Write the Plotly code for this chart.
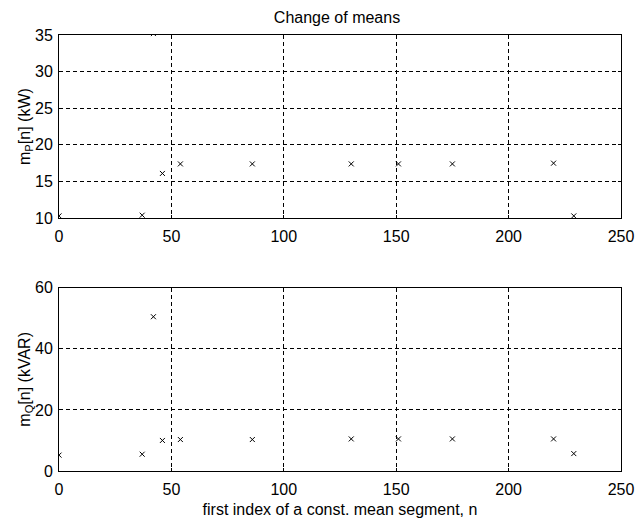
import plotly.graph_objects as go
from plotly.subplots import make_subplots

# first index of each constant-mean segment
seg_start = [0, 37, 42, 46, 54, 86, 130, 151, 175, 220, 229]
# estimated segment means
mean_p_kw = [10.3, 10.4, 35.2, 16.1, 17.4, 17.4, 17.4, 17.4, 17.4, 17.5, 10.3]
mean_q_kvar = [5.2, 5.5, 50.5, 10.0, 10.3, 10.3, 10.5, 10.5, 10.5, 10.5, 5.7]

x_ticks = [0, 50, 100, 150, 200, 250]
p_ticks = [10, 15, 20, 25, 30, 35]
q_ticks = [0, 20, 40, 60]

FONT = "Liberation Sans, Arial, Helvetica, sans-serif"
FS = 16

fig = make_subplots(rows=2, cols=1, vertical_spacing=0.0)

marker = dict(symbol="x-thin", size=5, color="black", line=dict(color="black", width=1))

fig.add_trace(go.Scatter(x=seg_start, y=mean_p_kw, mode="markers", marker=marker,
                         cliponaxis=True, showlegend=False), row=1, col=1)
fig.add_trace(go.Scatter(x=seg_start, y=mean_q_kvar, mode="markers", marker=marker,
                         cliponaxis=True, showlegend=False), row=2, col=1)

axis_common = dict(
    showline=True, linecolor="black", linewidth=1, mirror="ticks",
    ticks="inside", ticklen=3, tickcolor="black",
    showgrid=True, gridcolor="black", gridwidth=1, griddash="4px,3px",
    zeroline=False, automargin=False,
    tickfont=dict(family=FONT, size=FS, color="black"),
)

fig.update_xaxes(range=[0, 250], tickvals=x_ticks, ticklabelstandoff=4, **axis_common)
fig.update_xaxes(domain=[0, 1])
fig.update_yaxes(ticklabelstandoff=2, **axis_common)

fig.update_layout(
    yaxis=dict(domain=[0.58, 1.0], range=[10, 35], tickvals=p_ticks,
               title=dict(text="m<sub>P</sub>[n] (kW)", standoff=0,
                          font=dict(family=FONT, size=FS, color="black"))),
    yaxis2=dict(domain=[0.0, 0.4204], range=[0, 60], tickvals=q_ticks,
                title=dict(text="m<sub>Q</sub>[n] (kVAR)", standoff=0,
                           font=dict(family=FONT, size=FS, color="black"))),
    xaxis2=dict(title=dict(text="first index of a const. mean segment, n", standoff=6,
                           font=dict(family=FONT, size=FS, color="black"))),
    title=dict(text="Change of means", x=337 / 638, xanchor="center",
               y=1 - 17 / 519, yanchor="middle",
               font=dict(family=FONT, size=FS, color="black")),
    width=638, height=519,
    margin=dict(l=59, r=17, t=35, b=48),
    paper_bgcolor="white", plot_bgcolor="white",
    font=dict(family=FONT, color="black"),
)

fig.write_html("out.html")
